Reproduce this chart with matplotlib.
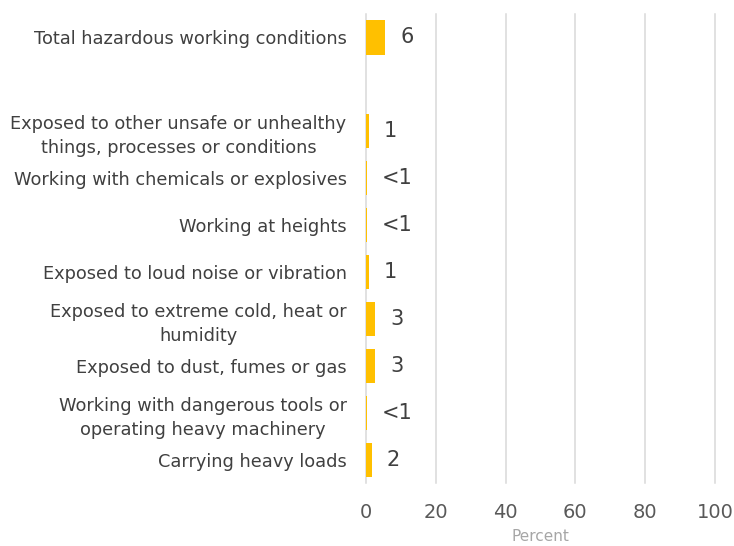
import numpy as np
import matplotlib.pyplot as plt

# categories top to bottom (a blank slot sits after the total)
categories = [
    "Total hazardous working conditions",
    "Exposed to other unsafe or unhealthy\nthings, processes or conditions",
    "Working with chemicals or explosives",
    "Working at heights",
    "Exposed to loud noise or vibration",
    "Exposed to extreme cold, heat or\nhumidity",
    "Exposed to dust, fumes or gas",
    "Working with dangerous tools or\noperating heavy machinery",
    "Carrying heavy loads",
]
values = [5.5, 0.8, 0.3, 0.3, 0.8, 2.6, 2.6, 0.3, 1.7]
value_labels = ["6", "1", "<1", "<1", "1", "3", "3", "<1", "2"]
x_ticks = [0, 20, 40, 60, 80, 100]

bar_color = "#FFC000"
text_color = "#404040"

fig = plt.figure(figsize=(7.34, 5.46), dpi=100)
ax = fig.add_axes([0.4986, 0.1145, 0.4755, 0.8605])

# positions: total at 0, then a gap, then the rest
y = np.arange(len(categories)) + 1
y[0] = 0

ax.barh(y, values, height=0.74, color=bar_color, zorder=3)

for yi, v, lab in zip(y, values, value_labels):
    ax.text(v + 4.3, yi, lab, va="center", ha="left", fontsize=15,
            color=text_color)

ax.set_xlim(0, 100)
ax.set_ylim(len(categories) + 0.5, -0.5)
ax.set_xticks(x_ticks)
ax.set_yticks(y)
ax.set_yticklabels(categories, fontsize=12.8, color=text_color,
                   multialignment="center", linespacing=1.4)
ax.tick_params(axis="x", labelsize=14, labelcolor="#595959", length=0, pad=14)
ax.tick_params(axis="y", length=0, pad=14)

ax.grid(axis="x", color="#D9D9D9", linewidth=1.1, zorder=0)
for gl in ax.get_xgridlines():
    gl.set_clip_on(False)
for s in ax.spines.values():
    s.set_visible(False)

ax.set_xlabel("Percent", fontsize=11, color="#A6A6A6", labelpad=5)

fig.savefig("out.png", dpi=100)
